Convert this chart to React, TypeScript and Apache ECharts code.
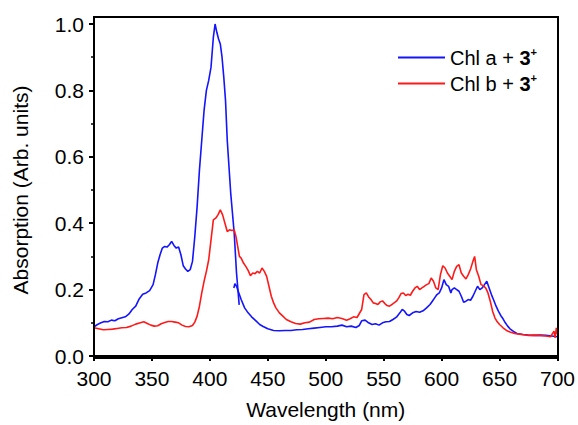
import React, { useEffect, useRef } from "react";
import * as echarts from "echarts";

const xTicks = [300, 350, 400, 450, 500, 550, 600, 650, 700];
const yTicks = [0, 0.2, 0.4, 0.6, 0.8, 1.0];
const seriesNames = ["Chl a + 3+", "Chl b + 3+"];
const legendPrefix = ["Chl a", "Chl b"];

// Chl a + 3+ (blue), main part up to the stitching step near 425 nm
const chlAMain: [number, number][] = [
  [300, 0.088], [303, 0.095], [306, 0.1], [309, 0.104], [312, 0.103], [315, 0.108], [318, 0.106],
  [321, 0.112], [324, 0.115], [327, 0.118], [330, 0.126], [333, 0.14], [336, 0.15], [339, 0.172],
  [342, 0.186], [345, 0.19], [348, 0.197], [351, 0.215], [353, 0.245], [355, 0.28], [357, 0.305],
  [359, 0.325], [361, 0.33], [363, 0.328], [365, 0.335], [367, 0.345], [369, 0.333], [371, 0.325],
  [373, 0.328], [375, 0.305], [377, 0.272], [379, 0.262], [381, 0.255], [383, 0.26], [385, 0.285],
  [387, 0.36], [389, 0.45], [391, 0.56], [393, 0.65], [395, 0.74], [397, 0.8], [399, 0.83],
  [401, 0.87], [403, 0.96], [404.5, 1.0], [406, 0.975], [407.5, 0.955], [409, 0.94], [410.5, 0.9],
  [412, 0.84], [413.5, 0.77], [415, 0.65], [416.5, 0.57], [418, 0.49], [419.5, 0.43], [421, 0.37],
  [423, 0.25], [425.3, 0.154],
];

// Chl a + 3+ (blue), second stitched part
const chlATail: [number, number][] = [
  [420.7, 0.205], [421.6, 0.218], [423, 0.21], [425, 0.19], [427, 0.17], [430, 0.145], [433, 0.13],
  [436, 0.118], [440, 0.105], [443, 0.095], [446, 0.089], [450, 0.082], [455, 0.077], [460, 0.076],
  [465, 0.077], [470, 0.077], [475, 0.079], [480, 0.08], [485, 0.082], [490, 0.084], [495, 0.086],
  [500, 0.088], [505, 0.088], [510, 0.09], [514, 0.093], [518, 0.088], [522, 0.09], [526, 0.086],
  [529, 0.092], [531, 0.106], [534, 0.108], [537, 0.1], [540, 0.095], [543, 0.097], [546, 0.093],
  [549, 0.1], [552, 0.103], [555, 0.104], [558, 0.11], [561, 0.117], [564, 0.13], [566, 0.14],
  [568, 0.135], [570, 0.125], [572, 0.122], [575, 0.13], [578, 0.134], [581, 0.132], [584, 0.136],
  [587, 0.145], [590, 0.155], [592, 0.165], [594, 0.175], [596, 0.185], [598, 0.19], [600, 0.205],
  [602, 0.23], [604, 0.215], [606, 0.21], [608, 0.19], [609, 0.2], [611, 0.205], [613, 0.2],
  [615, 0.195], [617, 0.18], [619, 0.162], [621, 0.165], [623, 0.17], [625, 0.168], [627, 0.18],
  [629, 0.195], [631, 0.21], [633, 0.2], [635, 0.205], [637, 0.215], [639, 0.225], [641, 0.205],
  [643, 0.185], [645, 0.168], [647, 0.15], [649, 0.135], [651, 0.122], [653, 0.112], [655, 0.1],
  [657, 0.09], [659, 0.082], [662, 0.074], [665, 0.068], [670, 0.065], [675, 0.063], [680, 0.062],
  [685, 0.063], [690, 0.062], [695, 0.06], [700, 0.058],
];

// Chl b + 3+ (red)
const chlB: [number, number][] = [
  [300, 0.085], [304, 0.082], [308, 0.079], [312, 0.08], [316, 0.081], [320, 0.083], [324, 0.085],
  [328, 0.086], [332, 0.09], [336, 0.096], [340, 0.1], [343, 0.103], [346, 0.098], [349, 0.093],
  [352, 0.09], [355, 0.091], [358, 0.097], [361, 0.101], [364, 0.104], [367, 0.104], [370, 0.102],
  [373, 0.1], [376, 0.093], [379, 0.089], [382, 0.088], [385, 0.092], [387, 0.102], [389, 0.12],
  [391, 0.15], [393, 0.19], [395, 0.225], [397, 0.255], [399, 0.29], [401, 0.35], [403, 0.41],
  [405, 0.415], [407, 0.425], [409, 0.44], [411, 0.425], [413, 0.4], [415, 0.375], [417, 0.38],
  [419, 0.378], [421, 0.38], [422.5, 0.36], [424, 0.33], [425.5, 0.3], [427, 0.295], [429, 0.28],
  [431, 0.27], [433, 0.258], [435, 0.242], [437, 0.25], [439, 0.248], [441, 0.255], [443, 0.25],
  [445, 0.265], [447, 0.255], [449, 0.24], [451, 0.21], [453, 0.18], [455, 0.16], [457, 0.145],
  [460, 0.13], [463, 0.12], [466, 0.11], [470, 0.103], [474, 0.098], [478, 0.096], [482, 0.1],
  [486, 0.102], [490, 0.11], [494, 0.112], [498, 0.113], [502, 0.114], [506, 0.112], [510, 0.116],
  [514, 0.113], [518, 0.108], [521, 0.112], [524, 0.118], [527, 0.116], [529, 0.128], [531, 0.14],
  [533, 0.185], [535, 0.19], [537, 0.178], [539, 0.17], [541, 0.16], [543, 0.158], [545, 0.155],
  [547, 0.163], [549, 0.166], [551, 0.158], [553, 0.152], [555, 0.15], [557, 0.155], [559, 0.16],
  [561, 0.165], [563, 0.175], [565, 0.188], [567, 0.19], [569, 0.182], [571, 0.186], [573, 0.183],
  [575, 0.195], [577, 0.205], [579, 0.21], [581, 0.2], [583, 0.205], [585, 0.21], [587, 0.215],
  [589, 0.218], [591, 0.235], [593, 0.225], [595, 0.205], [597, 0.2], [599, 0.245], [601, 0.272],
  [603, 0.265], [605, 0.25], [607, 0.24], [609, 0.23], [611, 0.255], [613, 0.27], [615, 0.275],
  [617, 0.25], [619, 0.24], [621, 0.232], [623, 0.245], [625, 0.262], [627, 0.285], [628.5, 0.3],
  [630, 0.26], [632, 0.24], [634, 0.215], [636, 0.212], [638, 0.205], [640, 0.19], [642, 0.165],
  [644, 0.135], [646, 0.115], [648, 0.103], [650, 0.095], [653, 0.085], [656, 0.077], [659, 0.072],
  [663, 0.068], [667, 0.066], [671, 0.064], [675, 0.062], [680, 0.063], [685, 0.062], [690, 0.06],
  [694, 0.058], [697, 0.075], [698, 0.055], [699, 0.085], [700, 0.065],
];

const FONT = 'Arial, "Liberation Sans", sans-serif';
const BLUE = "#1414ff";
const RED = "#ff1a1a";

export default function App() {
  const ref = useRef<HTMLDivElement>(null);
  useEffect(() => {
    if (!ref.current) return;
    const chart = echarts.init(ref.current, undefined, { renderer: "svg" });
    const lineSeries = (name: string, data: [number, number][], color: string) => ({
      type: "line",
      name,
      data,
      showSymbol: false,
      symbol: "none",
      lineStyle: { color, width: 1.6 },
      itemStyle: { color },
      z: 2,
    });
    chart.setOption({
      animation: false,
      textStyle: { fontFamily: FONT },
      grid: { left: 94, right: 20, top: 24, bottom: 67 },
      legend: {
        data: seriesNames,
        orient: "vertical",
        left: 393,
        top: 41,
        icon: "rect",
        itemWidth: 47,
        itemHeight: 2,
        itemGap: 3,
        formatter: (name: string) => {
          const i = seriesNames.indexOf(name);
          return `{n|${legendPrefix[i]} + }{b|3}{s|+}`;
        },
        textStyle: {
          fontFamily: FONT,
          color: "#000",
          rich: {
            n: { fontSize: 20, fontFamily: FONT, color: "#000", lineHeight: 24 },
            b: { fontSize: 20, fontFamily: FONT, fontWeight: "bold", color: "#000", lineHeight: 24 },
            s: { fontSize: 11, fontFamily: FONT, fontWeight: "bold", color: "#000", lineHeight: 24, padding: [0, 0, 12, 0] },
          },
        },
      },
      xAxis: {
        type: "value",
        min: xTicks[0],
        max: xTicks[xTicks.length - 1],
        interval: 50,
        name: "Wavelength (nm)",
        nameLocation: "middle",
        nameGap: 43,
        nameTextStyle: { fontSize: 21, fontFamily: FONT, color: "#000" },
        axisLine: { show: true, onZero: false, lineStyle: { color: "#000", width: 2 } },
        axisTick: { show: true, inside: false, length: 5, lineStyle: { color: "#000", width: 2 } },
        minorTick: { show: true, splitNumber: 5, length: 3, lineStyle: { color: "#000", width: 1.5 } },
        axisLabel: { fontSize: 21, fontFamily: FONT, color: "#000", margin: 12 },
        splitLine: { show: false },
      },
      yAxis: {
        type: "value",
        min: yTicks[0],
        max: yTicks[yTicks.length - 1],
        interval: 0.2,
        name: "Absorption (Arb. units)",
        nameLocation: "middle",
        nameGap: 63,
        nameTextStyle: { fontSize: 21, fontFamily: FONT, color: "#000" },
        axisLine: { show: true, onZero: false, lineStyle: { color: "#000", width: 2 } },
        axisTick: { show: true, inside: false, length: 5, lineStyle: { color: "#000", width: 2 } },
        minorTick: { show: true, splitNumber: 2, length: 3, lineStyle: { color: "#000", width: 1.5 } },
        axisLabel: {
          fontSize: 21,
          fontFamily: FONT,
          color: "#000",
          margin: 10,
          formatter: (v: number) => v.toFixed(1),
        },
        splitLine: { show: false },
      },
      graphic: [
        {
          type: "rect",
          shape: { x: 94, y: 17, width: 464, height: 341 },
          style: { fill: "none", stroke: "#000", lineWidth: 2 },
          silent: true,
          z: 10,
        },
      ],
      series: [
        lineSeries(seriesNames[0], chlAMain, BLUE),
        lineSeries(seriesNames[0], chlATail, BLUE),
        lineSeries(seriesNames[1], chlB, RED),
      ],
    });
    return () => chart.dispose();
  }, []);
  return (
    <div
      ref={ref}
      style={{ position: "fixed", left: 0, top: 0, width: 578, height: 425, background: "#fff" }}
    />
  );
}
